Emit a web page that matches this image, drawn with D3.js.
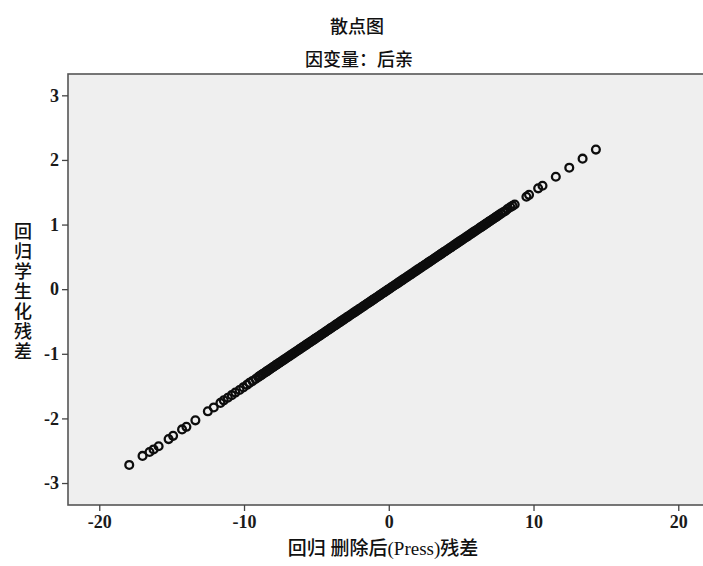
<!DOCTYPE html>
<html>
<head>
<meta charset="utf-8">
<script src="https://cdn.jsdelivr.net/npm/d3@7"></script>
<style>
    html, body { margin: 0; padding: 0; background: #fff; }
    svg { display: block; }
    .tick text { font-family: "Liberation Serif", "Times New Roman", serif; font-size: 18px; font-weight: bold; fill: #1a1a1a; }
    .tick line { stroke: #444; stroke-width: 1.3; }
</style>
</head>
<body>
<div id="svg"></div>
<script>
// 图表文字
var title = '散点图';
var subtitle = '因变量：后亲';
var xLabel = '回归 删除后(Press)残差';
var yLabel = '回归学生化残差';

// 刻度
var xTicks = [-20, -10, 0, 10, 20];
var yTicks = [-3, -2, -1, 0, 1, 2, 3];

// 删除后残差 (x)
var pressResid = [
    -17.93, -17.01, -16.53, -16.25, -15.90, -15.21, -14.90, -14.28, -13.98, -13.36,
    -12.50, -12.09, -11.63, -11.40, -11.12, -10.85, -10.60, -10.31, -10.05, -9.80,
    -9.62, -9.41, -9.20, -9.02,
    -8.90, -8.79, -8.71, -8.60, -8.48, -8.41, -8.30, -8.19, -8.12, -8.00,
    -7.91, -7.80, -7.72, -7.59, -7.50, -7.42, -7.31, -7.20, -7.09, -7.01,
    -6.90, -6.82, -6.70, -6.61, -6.49, -6.40, -6.32, -6.20, -6.11, -6.00,
    -5.91, -5.79, -5.70, -5.62, -5.50, -5.41, -5.29, -5.20, -5.10, -5.01,
    -4.90, -4.80, -4.71, -4.60, -4.52, -4.40, -4.30, -4.21, -4.10, -4.00,
    -3.91, -3.80, -3.69, -3.61, -3.50, -3.40, -3.31, -3.20, -3.10, -3.01,
    -2.90, -2.81, -2.70, -2.60, -2.50, -2.41, -2.30, -2.21, -2.10, -2.00,
    -1.90, -1.80, -1.71, -1.60, -1.50, -1.41, -1.30, -1.20, -1.10, -1.00,
    -0.91, -0.80, -0.70, -0.61, -0.50, -0.40, -0.30, -0.21, -0.10, 0.00,
    0.10, 0.19, 0.30, 0.40, 0.51, 0.60, 0.70, 0.80, 0.91, 1.00,
    1.10, 1.20, 1.29, 1.40, 1.50, 1.60, 1.71, 1.80, 1.90, 2.00,
    2.10, 2.21, 2.30, 2.40, 2.50, 2.61, 2.70, 2.80, 2.90, 3.00,
    3.10, 3.20, 3.31, 3.40, 3.50, 3.60, 3.70, 3.81, 3.90, 4.00,
    4.10, 4.20, 4.30, 4.41, 4.50, 4.60, 4.70, 4.80, 4.90, 5.01,
    5.10, 5.20, 5.30, 5.40, 5.50, 5.61, 5.70, 5.80, 5.90, 6.00,
    6.10, 6.20, 6.31, 6.40, 6.50, 6.60, 6.70, 6.80, 6.90, 7.00,
    7.10, 7.21, 7.30, 7.40, 7.50,
    7.62, 7.75, 7.90, 8.05, 8.20, 8.40, 8.55, 8.70, 9.51, 9.69,
    10.32, 10.62, 11.54, 12.47, 13.39, 14.31
];

// 学生化残差 (y)
var studResid = [
    -2.72, -2.58, -2.52, -2.48, -2.43, -2.32, -2.27, -2.17, -2.13, -2.03,
    -1.89, -1.83, -1.76, -1.72, -1.68, -1.64, -1.60, -1.56, -1.52, -1.48,
    -1.45, -1.42, -1.39, -1.36,
    -1.342, -1.326, -1.313, -1.297, -1.279, -1.268, -1.252, -1.235, -1.224, -1.206,
    -1.193, -1.176, -1.164, -1.145, -1.131, -1.119, -1.102, -1.086, -1.069, -1.057,
    -1.041, -1.028, -1.010, -0.997, -0.979, -0.965, -0.953, -0.935, -0.921, -0.905,
    -0.891, -0.873, -0.860, -0.847, -0.829, -0.816, -0.798, -0.784, -0.769, -0.755,
    -0.739, -0.724, -0.710, -0.694, -0.682, -0.664, -0.648, -0.635, -0.618, -0.603,
    -0.590, -0.573, -0.556, -0.544, -0.528, -0.513, -0.499, -0.483, -0.467, -0.454,
    -0.437, -0.424, -0.407, -0.392, -0.377, -0.363, -0.347, -0.333, -0.317, -0.302,
    -0.287, -0.271, -0.258, -0.241, -0.226, -0.213, -0.196, -0.181, -0.166, -0.151,
    -0.137, -0.121, -0.106, -0.092, -0.075, -0.060, -0.045, -0.032, -0.015, 0.000,
    0.015, 0.029, 0.045, 0.060, 0.077, 0.090, 0.106, 0.121, 0.137, 0.151,
    0.166, 0.181, 0.195, 0.211, 0.226, 0.241, 0.258, 0.271, 0.287, 0.302,
    0.317, 0.333, 0.347, 0.362, 0.377, 0.394, 0.407, 0.422, 0.437, 0.452,
    0.467, 0.483, 0.499, 0.513, 0.528, 0.543, 0.558, 0.575, 0.588, 0.603,
    0.618, 0.633, 0.648, 0.665, 0.679, 0.694, 0.709, 0.724, 0.739, 0.755,
    0.769, 0.784, 0.799, 0.814, 0.829, 0.846, 0.860, 0.875, 0.890, 0.905,
    0.920, 0.935, 0.952, 0.965, 0.980, 0.995, 1.010, 1.025, 1.041, 1.056,
    1.071, 1.087, 1.101, 1.116, 1.131,
    1.15, 1.17, 1.19, 1.21, 1.24, 1.27, 1.29, 1.31, 1.43, 1.46,
    1.56, 1.60, 1.74, 1.88, 2.02, 2.16
];

var data = pressResid.map(function (x, i) { return [x, studResid[i]]; });

// 图表大小与绘图区
var width = 703;
var height = 566;
var plot = { left: 68, right: 712, top: 74, bottom: 505 };

var svg = d3.select('#svg')
    .append('svg')
    .attr('width', width)
    .attr('height', height);

var xScale = d3.scaleLinear()
    .domain([-22.16, 22.33])
    .range([plot.left, plot.right]);
var yScale = d3.scaleLinear()
    .domain([-3.34, 3.33])
    .range([plot.bottom, plot.top]);

// 背景
svg.append('rect')
    .attr('x', plot.left)
    .attr('y', plot.top)
    .attr('width', plot.right - plot.left)
    .attr('height', plot.bottom - plot.top)
    .attr('fill', '#efefef')
    .attr('stroke', '#555')
    .attr('stroke-width', 1.6);

// 轴线
var xAxis = d3.axisBottom(xScale)
    .tickValues(xTicks)
    .tickSize(6)
    .tickPadding(4)
    .tickFormat(function (d) { return String(d); });
var yAxis = d3.axisLeft(yScale)
    .tickValues(yTicks)
    .tickSize(6)
    .tickPadding(3)
    .tickFormat(function (d) { return String(d); });

svg.append('g')
    .attr('class', 'axis')
    .attr('transform', 'translate(0,' + plot.bottom + ')')
    .call(xAxis)
    .call(function (g) { g.select('.domain').remove(); });
svg.append('g')
    .attr('class', 'axis')
    .attr('transform', 'translate(' + plot.left + ',0)')
    .call(yAxis)
    .call(function (g) { g.select('.domain').remove(); });

// 数据点
svg.append('g')
    .selectAll('circle')
    .data(data)
    .enter()
    .append('circle')
    .attr('cx', function (d) { return xScale(d[0]); })
    .attr('cy', function (d) { return yScale(d[1]); })
    .attr('r', 3.9)
    .attr('fill', 'none')
    .attr('stroke', '#0d0d0d')
    .attr('stroke-width', 2.3);

// 标题
svg.append('text')
    .attr('x', 357)
    .attr('y', 33)
    .attr('text-anchor', 'middle')
    .style('font-family', '"Noto Sans CJK SC", sans-serif')
    .style('font-size', '18px')
    .style('font-weight', 500)
    .attr('fill', '#111')
    .text(title);
svg.append('text')
    .attr('x', 359)
    .attr('y', 66)
    .attr('text-anchor', 'middle')
    .style('font-family', '"Noto Sans CJK SC", sans-serif')
    .style('font-size', '18px')
    .style('font-weight', 500)
    .attr('fill', '#111')
    .text(subtitle);

// x轴标题
svg.append('text')
    .attr('x', 383)
    .attr('y', 555)
    .attr('text-anchor', 'middle')
    .style('font-family', '"Liberation Serif", "Noto Sans CJK SC", serif')
    .style('font-size', '19px')
    .style('font-weight', 500)
    .attr('fill', '#111')
    .text(xLabel);

// y轴标题 (竖排)
svg.append('text')
    .attr('x', 23)
    .attr('y', 222)
    .style('writing-mode', 'vertical-rl')
    .style('text-orientation', 'upright')
    .style('letter-spacing', '2px')
    .style('font-family', '"Noto Sans CJK SC", sans-serif')
    .style('font-size', '18px')
    .style('font-weight', 500)
    .attr('fill', '#111')
    .text(yLabel);
</script>
</body>
</html>
